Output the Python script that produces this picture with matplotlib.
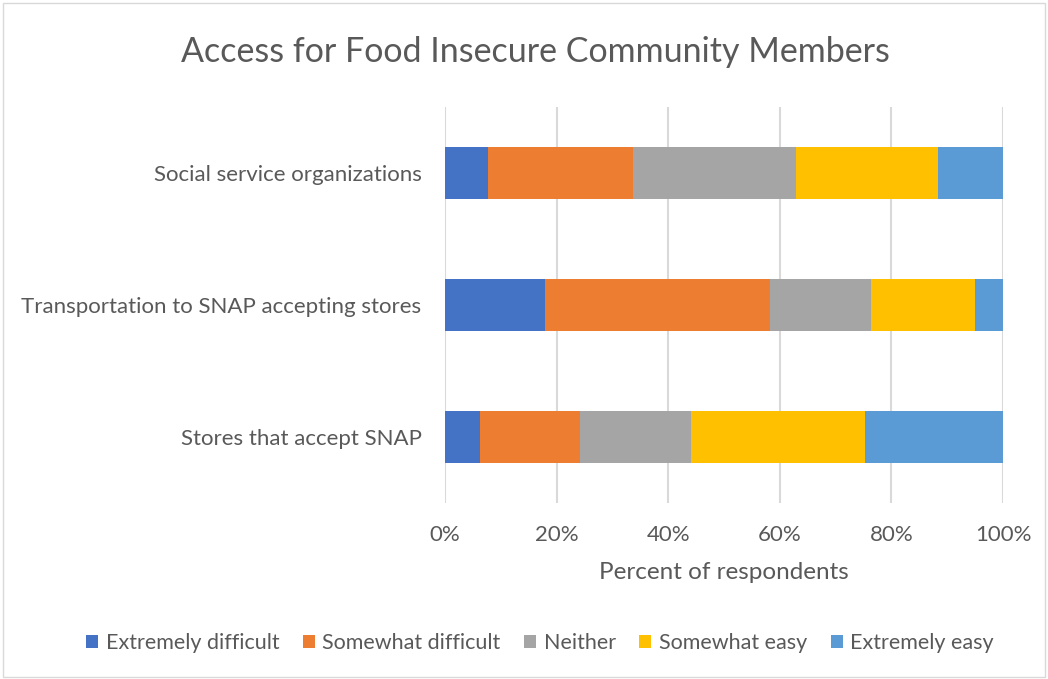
import numpy as np
import matplotlib.pyplot as plt
from matplotlib.patches import Rectangle

plt.rcParams['font.family'] = ['Lato', 'DejaVu Sans']

categories = ['Stores that accept SNAP',
              'Transportation to SNAP accepting stores',
              'Social service organizations']
responses = ['Extremely difficult', 'Somewhat difficult', 'Neither',
             'Somewhat easy', 'Extremely easy']
# percent of respondents, rows follow categories (bottom to top)
extremely_difficult = [6.2, 18.0, 7.7]
somewhat_difficult = [18.0, 40.2, 26.0]
neither = [19.9, 18.1, 29.2]
somewhat_easy = [31.1, 18.7, 25.4]
extremely_easy = [24.8, 5.0, 11.7]
colors = ['#4472C4', '#ED7D31', '#A5A5A5', '#FFC000', '#5B9BD5']

series = [extremely_difficult, somewhat_difficult, neither, somewhat_easy, extremely_easy]

fig = plt.figure(figsize=(10.48, 6.79), dpi=100)
ax = fig.add_axes([445 / 1048, 1 - 503 / 679, 558 / 1048, 396 / 679])

txt = '#595959'
y = np.arange(len(categories))
left = np.zeros(len(categories))
for vals, name, c in zip(series, responses, colors):
    ax.barh(y, vals, left=left, height=0.4, color=c, label=name, zorder=3)
    left += np.array(vals)

ax.set_xlim(0, 100)
ax.set_ylim(-0.5, 2.5)
ax.set_xticks(np.arange(0, 101, 20))
ax.set_xticklabels([f'{v}%' for v in range(0, 101, 20)])
ax.set_yticks(y)
ax.set_yticklabels(categories)
ax.tick_params(axis='both', length=0, labelsize=16, colors=txt)
ax.tick_params(axis='x', pad=16)
ax.tick_params(axis='y', pad=17)
ax.grid(axis='x', color='#D9D9D9', linewidth=1.5, zorder=0)
for s in ax.spines.values():
    s.set_visible(False)
ax.set_xlabel('Percent of respondents', fontsize=17.5, color=txt, labelpad=12)

fig.text(535 / 1048, 1 - 52 / 679, 'Access for Food Insecure Community Members',
         ha='center', va='center', fontsize=24.5, color=txt)

leg = fig.legend(loc='center', bbox_to_anchor=(540 / 1048, 1 - 643 / 679), ncol=5,
                 frameon=False, fontsize=15.5, handlelength=0.55, handleheight=0.55,
                 handletextpad=0.35, columnspacing=1.1)
for t in leg.get_texts():
    t.set_color(txt)

fig.patches.append(Rectangle((0.003, 0.003), 0.994, 0.992, transform=fig.transFigure,
                             fill=False, edgecolor='#D9D9D9', linewidth=1))

fig.savefig('out.png', dpi=100)
